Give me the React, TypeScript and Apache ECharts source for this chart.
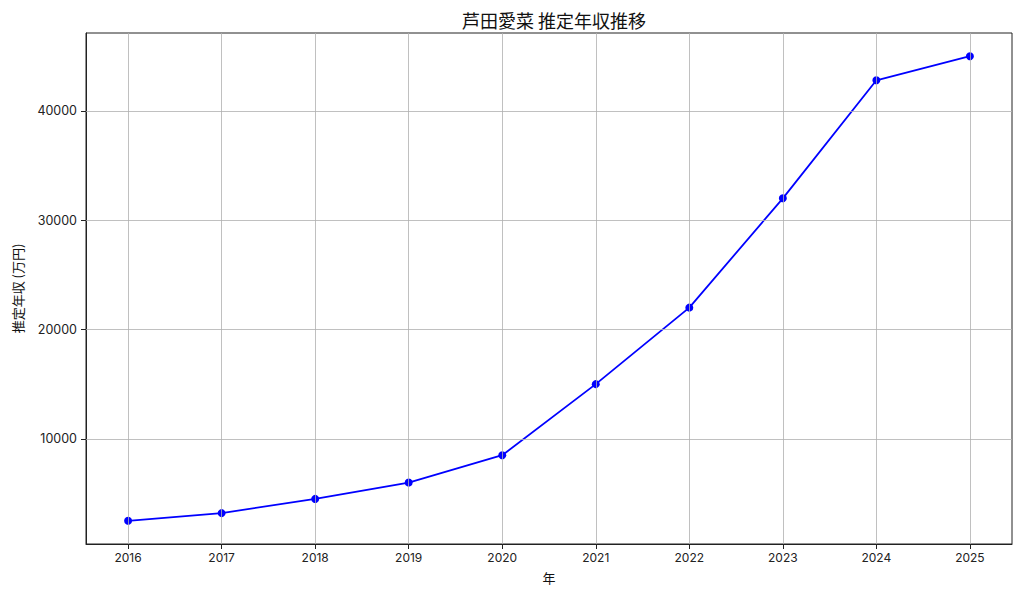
import React, { useEffect, useRef } from "react";
import * as echarts from "echarts";

const years = [2016, 2017, 2018, 2019, 2020, 2021, 2022, 2023, 2024, 2025];
const income = [2500, 3200, 4500, 6000, 8500, 15000, 22000, 32000, 42800, 45000];
const yTicks = [10000, 20000, 30000, 40000];
const titleText = "芦田愛菜 推定年収推移";
const xName = "年";
const yName = "推定年収 (万円)";

const FONT = "'Noto Sans CJK JP', 'Noto Sans', sans-serif";
const NUMFONT = "Inter, 'Noto Sans', sans-serif";

export default function App() {
  const ref = useRef<HTMLDivElement>(null);
  useEffect(() => {
    if (!ref.current) return;
    const chart = echarts.init(ref.current, null, { renderer: "svg" });
    const dataMin = Math.min(...income);
    const dataMax = Math.max(...income);
    const yPad = (dataMax - dataMin) * 0.05;
    const xPad = (years[years.length - 1] - years[0]) * 0.05;
    const gridStyle = { color: "#b0b0b0", width: 0.8, type: "solid" as const };
    chart.setOption({
      animation: false,
      backgroundColor: "#ffffff",
      textStyle: { fontFamily: FONT },
      title: {
        text: titleText,
        left: 549,
        textAlign: "center",
        top: 6,
        textStyle: { fontFamily: FONT, fontSize: 18, fontWeight: "normal", color: "#111" },
      },
      grid: {
        left: 86,
        right: 12,
        top: 33,
        bottom: 53,
        show: true,
        borderColor: "#222",
        borderWidth: 1,
        backgroundColor: "transparent",
      },
      xAxis: {
        type: "value",
        min: years[0] - xPad,
        max: years[years.length - 1] + xPad,
        name: xName,
        nameLocation: "middle",
        nameGap: 27,
        nameTextStyle: { fontFamily: FONT, fontSize: 13, color: "#111" },
        axisLine: { show: true, onZero: false, lineStyle: { color: "#222", width: 1 } },
        axisTick: { show: true, length: 5, inside: false, customValues: years, lineStyle: { color: "#222" } },
        axisLabel: {
          customValues: years,
          margin: 7,
          fontFamily: NUMFONT,
          fontSize: 12,
          color: "#222",
          formatter: (v: number) => String(Math.round(v)),
        },
        splitLine: { show: false },
      },
      yAxis: {
        type: "value",
        min: dataMin - yPad,
        max: dataMax + yPad,
        name: yName,
        nameLocation: "middle",
        nameGap: 62,
        nameRotate: 90,
        nameTextStyle: { fontFamily: FONT, fontSize: 13, color: "#111" },
        axisLine: { show: true, lineStyle: { color: "#222", width: 1 } },
        axisTick: { show: true, length: 5, inside: false, customValues: yTicks, lineStyle: { color: "#222" } },
        axisLabel: {
          customValues: yTicks,
          margin: 9,
          fontFamily: NUMFONT,
          fontSize: 12.5,
          color: "#222",
          formatter: (v: number) => String(Math.round(v)),
        },
        splitLine: { show: false },
      },
      series: [
        {
          type: "line",
          name: "grid",
          data: years.map((y, i) => [y, income[i]]),
          symbol: "none",
          lineStyle: { opacity: 0 },
          silent: true,
          z: 1,
          markLine: {
            silent: true,
            symbol: "none",
            label: { show: false },
            lineStyle: gridStyle,
            animation: false,
            data: [
              ...years.map((y) => ({ xAxis: y })),
              ...yTicks.map((v) => ({ yAxis: v })),
            ],
          },
        },
        {
          type: "line",
          name: "income",
          data: years.map((y, i) => [y, income[i]]),
          symbol: "circle",
          symbolSize: 8,
          showSymbol: true,
          itemStyle: { color: "#0000ff" },
          lineStyle: { color: "#0000ff", width: 1.8 },
          z: 3,
        },
      ],
    });
    return () => chart.dispose();
  }, []);
  return (
    <div
      ref={ref}
      style={{ position: "absolute", left: 0, top: 0, width: 1024, height: 597 }}
    />
  );
}
